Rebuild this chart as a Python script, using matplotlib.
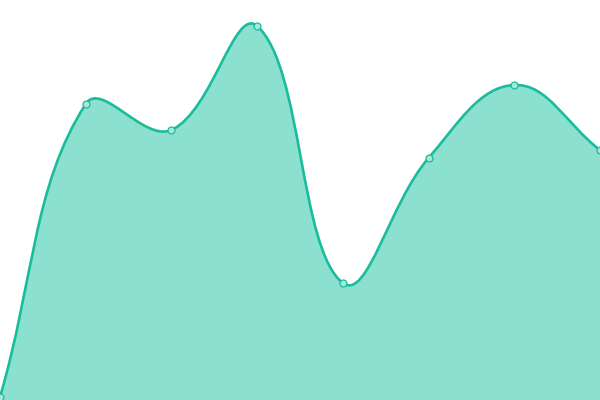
import numpy as np
import matplotlib
matplotlib.use("Agg")
from matplotlib import pyplot as plt
from matplotlib.path import Path
from matplotlib import patches

# values (0 = bottom edge, 400 = top edge)
labels = ["0", "1", "2", "3", "4", "5", "6", "7"]
values = [3, 296, 270, 374, 117, 242, 315, 250]

line_color = "#1abc9c"
fill_color = "#8be0cf"
tension = 0.4

fig = plt.figure(figsize=(6, 4), dpi=100)
ax = fig.add_axes([0, 0, 1, 1])
ax.set_xlim(0, len(values) - 1)
ax.set_ylim(0, 400)
ax.axis("off")

# build bezier control points in pixel space (chart.js style spline)
xs = np.arange(len(values)) * 600.0 / (len(values) - 1)
ys = np.array(values, dtype=float)
n = len(xs)
cp_before = []
cp_after = []
for i in range(n):
    p = np.array([xs[i], ys[i]])
    prev = np.array([xs[max(i - 1, 0)], ys[max(i - 1, 0)]])
    nxt = np.array([xs[min(i + 1, n - 1)], ys[min(i + 1, n - 1)]])
    d01 = np.hypot(*(p - prev))
    d12 = np.hypot(*(nxt - p))
    tot = d01 + d12
    s01 = d01 / tot if tot else 0
    s12 = d12 / tot if tot else 0
    cp_before.append(p - tension * s01 * (nxt - prev))
    cp_after.append(p + tension * s12 * (nxt - prev))

sx = (len(values) - 1) / 600.0
verts = [(xs[0] * sx, ys[0])]
codes = [Path.MOVETO]
for i in range(n - 1):
    a = cp_after[i]
    b = cp_before[i + 1]
    verts += [(a[0] * sx, a[1]), (b[0] * sx, b[1]), (xs[i + 1] * sx, ys[i + 1])]
    codes += [Path.CURVE4] * 3

line_path = Path(verts, codes)
fill_verts = verts + [(xs[-1] * sx, 0), (0, 0), verts[0]]
fill_codes = codes + [Path.LINETO, Path.LINETO, Path.CLOSEPOLY]

ax.add_patch(patches.PathPatch(Path(fill_verts, fill_codes), facecolor=fill_color, edgecolor="none"))
ax.add_patch(patches.PathPatch(line_path, facecolor="none", edgecolor=line_color, linewidth=1.9))

ax.plot(np.arange(len(values)), values, "o", markersize=5, markerfacecolor="#a8e8d9",
        markeredgecolor=line_color, markeredgewidth=0.9, clip_on=False)

fig.savefig("out.png", dpi=100)
